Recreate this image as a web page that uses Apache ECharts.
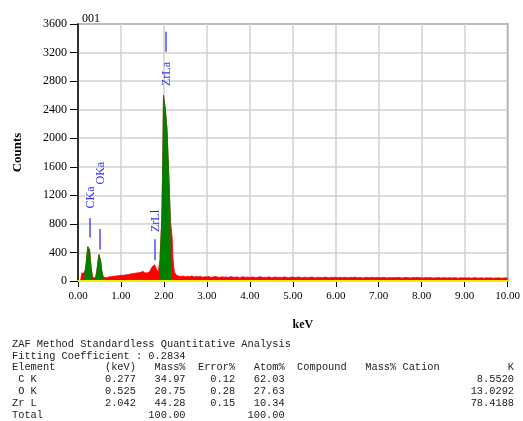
<!DOCTYPE html>
<html><head><meta charset="utf-8">
<script src="https://cdn.jsdelivr.net/npm/echarts@6/dist/echarts.min.js"></script>
<style>html,body{margin:0;padding:0;background:#fff}#c{width:523px;height:421px}</style>
</head><body><div id="c"></div>
<script>
// ---- spectrum: low-energy part (0.00 .. 2.34 keV, 0.02 keV bins)
const lowStart = 0.00, lowStep = 0.02;
const lowCounts = [
  0, 0, 0, 5, 45, 110, 130, 115, 100, 160,
  250, 380, 480, 505, 430, 290, 160, 85, 50, 40,
  42, 60, 110, 190, 300, 370, 365, 270, 160, 90,
  60, 50, 45, 50, 48, 55, 52, 58, 60, 62,
  60, 65, 68, 64, 70, 72, 70, 75, 78, 74,
  80, 82, 85, 80, 88, 90, 86, 92, 95, 90,
  98, 100, 96, 102, 105, 100, 108, 110, 105, 112,
  115, 110, 118, 125, 130, 135, 130, 120, 112, 108,
  110, 115, 120, 130, 145, 160, 180, 200, 220, 228,
  215, 190, 160, 140, 130, 150, 320, 330, 855, 1530,
  2600, 2610, 2420, 2400, 2140, 2130, 1530, 1520, 855, 850,
  620, 320, 180, 120, 95, 80, 72, 70
];
// ---- spectrum: high-energy part (2.35 .. 10.00 keV, 0.05 keV bins)
const highStart = 2.35, highStep = 0.05;
const highCounts = [
  68, 62, 70, 58, 65, 60, 72, 55, 63, 58, 66, 52, 60, 57,
  62, 50, 58, 64, 55, 49, 60, 53, 57, 48, 62, 55, 51, 58, 46, 54, 60, 50, 55, 49,
  57, 52, 47, 55, 60, 48, 53, 50, 58, 45, 52, 56, 49, 54, 47, 58, 51, 46, 53, 55,
  48, 52, 57, 45, 50, 54, 47, 51, 56, 44, 50, 53, 48, 46, 55, 50, 45, 52, 49, 54,
  47, 51, 44, 53, 49, 46, 52, 48, 55, 45, 50, 47, 43, 51, 49, 46, 53, 44, 50, 48,
  45, 52, 47, 43, 50, 46, 49, 44, 51, 47, 42, 48, 50, 45, 43, 49, 46, 51, 44, 47,
  43, 48, 45, 50, 42, 46, 44, 49, 41, 47, 45, 43, 48, 42, 46, 44, 40, 47, 43, 45,
  42, 46, 40, 44, 47, 41, 43, 45, 39, 44, 42, 46, 40, 43, 41, 45, 39, 42, 44, 40
];
// ---- regions of interest (green)
const roiStart = [0.16, 0.42, 1.92];
const roiEnd   = [0.35, 0.59, 2.16];
// ---- peak markers
const peakNames   = ['CKa', 'OKa', 'ZrLl', 'ZrLa'];
const peakEnergy  = [0.27, 0.52, 1.80, 2.04];
const markFrom    = [610, 440, 290, 3210];
const markTo      = [880, 730, 585, 3490];
const labelCenter = [1170, 1510, 840, 2900];
// ---- table
const tableTitle = 'ZAF Method Standardless Quantitative Analysis';
const fitLine = 'Fitting Coefficient : 0.2834';
const tableHeader = 'Element        (keV)   Mass%  Error%   Atom%  Compound   Mass% Cation           K';
const elements = [' C K', ' O K', 'Zr L'];
const keVs     = ['0.277', '0.525', '2.042'];
const massPct  = ['34.97', '20.75', '44.28'];
const errPct   = ['0.12', '0.28', '0.15'];
const atomPct  = ['62.03', '27.63', '10.34'];
const kValues  = ['8.5520', '13.0292', '78.4188'];
const totalMass = '100.00', totalAtom = '100.00';

// build series data
const spectrum = [];
lowCounts.forEach((c, i) => spectrum.push([+(lowStart + i * lowStep).toFixed(2), c]));
highCounts.forEach((c, i) => spectrum.push([+(highStart + i * highStep).toFixed(2), c]));
const inRoi = e => roiStart.some((s, k) => e >= s - 1e-9 && e <= roiEnd[k] + 1e-9);
const roiData = spectrum.map(p => inRoi(p[0]) ? p : [p[0], null]);
const markers = peakEnergy.map((e, i) => [e, markFrom[i], markTo[i], labelCenter[i]]);

const tableLines = [tableTitle, fitLine, tableHeader];
elements.forEach((el, i) => {
  tableLines.push(el.padEnd(15) + keVs[i].padStart(5) + massPct[i].padStart(8) +
    errPct[i].padStart(8) + atomPct[i].padStart(8) + kValues[i].padStart(37));
});
tableLines.push('Total'.padEnd(20) + totalMass.padStart(8) + ''.padStart(8) + totalAtom.padStart(8));

const serif = '"Liberation Serif", "Times New Roman", serif';
const chart = echarts.init(document.getElementById('c'));
chart.setOption({
  animation: false,
  backgroundColor: '#fff',
  title: {text: '001', left: 77, top: 8,
    textStyle: {fontFamily: serif, fontSize: 12, fontWeight: 'normal', color: '#000'}},
  grid: {left: 78, right: 13, top: 24, bottom: 140, show: true,
    borderColor: '#555', borderWidth: 1.5, backgroundColor: 'transparent'},
  xAxis: {
    type: 'value', min: 0, max: 10, interval: 1,
    name: 'keV', nameLocation: 'middle', nameGap: 38,
    nameTextStyle: {fontFamily: serif, fontSize: 12, fontWeight: 'bold', color: '#000', padding: [0, 0, 0, 20]},
    axisLine: {show: true, lineStyle: {color: '#f2f200', width: 2}},
    axisTick: {show: true, length: 6, lineStyle: {color: '#000', width: 1}},
    axisLabel: {fontFamily: serif, fontSize: 11, color: '#000', margin: 10,
      formatter: v => v.toFixed(2)},
    splitLine: {show: true, lineStyle: {color: '#d0d0d0', width: 1.5}}
  },
  yAxis: {
    type: 'value', min: 0, max: 3600, interval: 400,
    name: 'Counts', nameLocation: 'middle', nameGap: 54,
    nameTextStyle: {fontFamily: serif, fontSize: 13, fontWeight: 'bold', color: '#000'},
    axisLine: {show: true, lineStyle: {color: '#000', width: 1.5}},
    axisTick: {show: true, length: 8, lineStyle: {color: '#000', width: 1}},
    axisLabel: {fontFamily: serif, fontSize: 12, color: '#000', margin: 11,
      formatter: v => String(v)},
    splitLine: {show: true, lineStyle: {color: '#d0d0d0', width: 1.5}}
  },
  series: [
    {type: 'line', name: 'spectrum', data: spectrum, step: 'middle', showSymbol: false,
      symbol: 'none', lineStyle: {color: '#ff0000', width: 0.8},
      areaStyle: {color: '#ff0000', opacity: 1}, z: 2},
    {type: 'line', name: 'roi', data: roiData, step: 'middle', showSymbol: false,
      symbol: 'none', connectNulls: false, lineStyle: {color: '#008000', width: 0.8},
      areaStyle: {color: '#008000', opacity: 1}, z: 3,
      markLine: {silent: true, symbol: 'none', label: {show: false},
        lineStyle: {color: '#f2f200', width: 2, type: 'solid'}, data: [{yAxis: 0}]}},
    {type: 'custom', name: 'markers', data: markers, clip: false, z: 4,
      renderItem: function (params, api) {
        const i = params.dataIndex;
        const e = api.value(0);
        const p1 = api.coord([e, api.value(1)]);
        const p2 = api.coord([e, api.value(2)]);
        const pt = api.coord([e, api.value(3)]);
        return {type: 'group', children: [
          {type: 'line', shape: {x1: Math.round(p1[0]), y1: p1[1], x2: Math.round(p2[0]), y2: p2[1]},
            style: {stroke: '#3030ff', lineWidth: 1.3}},
          {type: 'text', x: pt[0] + 1, y: pt[1], rotation: Math.PI / 2,
            style: {text: peakNames[i], fill: '#3030ff', font: '12px ' + serif,
              align: 'center', verticalAlign: 'middle', textAlign: 'center', textVerticalAlign: 'middle'}}
        ]};
      }}
  ],
  graphic: tableLines.map((t, i) => ({
    type: 'text', x: 12, y: 344 + i * 11.85,
    style: {text: t, fill: '#222', font: '10.33px "Liberation Mono", "Courier New", monospace',
      verticalAlign: 'middle', textVerticalAlign: 'middle'}
  }))
});
</script>
</body></html>
